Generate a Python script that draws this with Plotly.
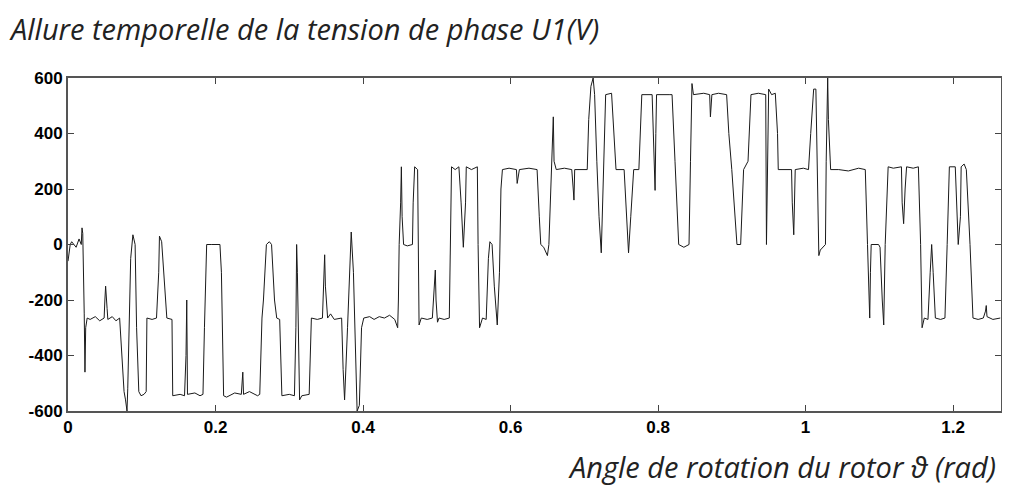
import plotly.graph_objects as go

# rotor angle (rad) at each breakpoint of the phase voltage trace
angle = [
    0.000, 0.003, 0.005, 0.011, 0.015, 0.018, 0.019, 0.020, 0.022, 0.023, 0.024, 0.026,
    0.030, 0.037, 0.043, 0.049, 0.050, 0.051, 0.053, 0.054, 0.060, 0.065, 0.070, 0.073,
    0.076, 0.078, 0.080, 0.081, 0.083, 0.085, 0.088, 0.091, 0.093, 0.096, 0.099, 0.103,
    0.106, 0.107, 0.114, 0.120, 0.123, 0.124, 0.127, 0.131, 0.134, 0.141, 0.142, 0.152,
    0.158, 0.160, 0.161, 0.162, 0.172, 0.179, 0.183,
    0.185, 0.188, 0.195, 0.206, 0.208, 0.211, 0.215, 0.226, 0.235, 0.237, 0.238, 0.246,
    0.257, 0.260, 0.263, 0.265, 0.269, 0.273, 0.276, 0.280, 0.283, 0.287, 0.290, 0.300,
    0.307, 0.309, 0.310, 0.311, 0.314, 0.317, 0.327, 0.330, 0.338, 0.345, 0.348, 0.349,
    0.352, 0.356, 0.361, 0.371, 0.373, 0.375, 0.379, 0.382, 0.384, 0.387, 0.390, 0.392,
    0.395, 0.398, 0.401,
    0.409, 0.415, 0.422, 0.429, 0.436, 0.443, 0.447, 0.448, 0.449, 0.451, 0.452, 0.453,
    0.455, 0.460, 0.467, 0.468, 0.470, 0.474, 0.475, 0.476, 0.479, 0.487, 0.494, 0.497,
    0.498, 0.499, 0.501, 0.503, 0.510, 0.517, 0.518, 0.520, 0.525, 0.530, 0.533, 0.536,
    0.539, 0.540, 0.547, 0.555, 0.556, 0.558, 0.562, 0.567, 0.570, 0.571, 0.572, 0.575,
    0.578, 0.582, 0.585, 0.587, 0.589, 0.598, 0.608,
    0.609, 0.612, 0.625, 0.636, 0.639, 0.641, 0.645, 0.650, 0.652, 0.655, 0.658, 0.659,
    0.662, 0.673, 0.683, 0.685, 0.686, 0.687, 0.704, 0.706, 0.709, 0.712, 0.714, 0.717,
    0.720, 0.723, 0.725, 0.728, 0.729, 0.737, 0.740, 0.743, 0.754, 0.756, 0.760, 0.763,
    0.767, 0.774, 0.777, 0.778, 0.792, 0.794, 0.796, 0.797, 0.798, 0.815,
    0.819, 0.823, 0.827, 0.828, 0.835, 0.842, 0.844, 0.846, 0.848, 0.862, 0.870, 0.871,
    0.873, 0.882, 0.893, 0.896, 0.900, 0.904, 0.907, 0.912, 0.915, 0.916, 0.922, 0.924,
    0.926, 0.936, 0.946, 0.947, 0.949, 0.950, 0.954, 0.959, 0.962, 0.963, 0.981, 0.982,
    0.984, 0.985, 0.986, 0.997, 1.004, 1.007, 1.011, 1.014,
    1.016, 1.018, 1.020, 1.027, 1.028, 1.030, 1.031, 1.034, 1.045, 1.058, 1.072, 1.081,
    1.084, 1.087, 1.088, 1.089, 1.099, 1.101, 1.104, 1.106, 1.108, 1.111, 1.112, 1.119,
    1.130, 1.131, 1.133, 1.135, 1.137, 1.146, 1.153, 1.156, 1.158, 1.161, 1.166, 1.169,
    1.171, 1.173, 1.176, 1.183, 1.189, 1.192, 1.195, 1.203, 1.206, 1.207, 1.210, 1.211,
    1.215, 1.218, 1.223, 1.227, 1.234, 1.241, 1.244, 1.245, 1.246, 1.254, 1.264,
]

# phase voltage U1 (V)
voltage = [
    -60, 0, 10, -10, 20, 0, 60, 40, -250, -460, -300, -265,
    -270, -260, -275, -265, -200, -150, -230, -270, -260, -275, -265, -400,
    -530, -560, -600, -520, -300, -50, 35, 0, -300, -530, -545, -540,
    -530, -265, -270, -265, -100, 30, 10, -150, -265, -270, -545, -540,
    -545, -400, -200, -540, -535, -545, -540,
    -300, 0, 0, 0, -100, -545, -550, -535, -540, -460, -540, -530,
    -545, -540, -265, -200, 0, 10, 0, -200, -265, -270, -545, -540,
    -545, -300, 0, -100, -560, -545, -540, -265, -270, -265, -37, -150,
    -265, -250, -270, -265, -450, -560, -300, -50, 45, -100, -400, -600,
    -580, -300, -265,
    -260, -270, -260, -265, -255, -270, -300, -200, 0, 150, 280, 100,
    0, -5, 0, 150, 280, 270, 0, -290, -265, -270, -265, -150,
    -92, -200, -280, -265, -270, -265, 0, 280, 270, 280, 150, -10,
    150, 280, 270, 280, 0, -300, -265, -270, -50, 0, 10, 0,
    -150, -290, -100, 200, 270, 275, 270,
    220, 270, 275, 270, 100, 0, -10, -40, 0, 200, 460, 300,
    270, 275, 270, 200, 160, 270, 270, 450, 570, 600, 540, 300,
    100, -30, 150, 450, 540, 545, 400, 270, 270, 150, -30, 100,
    270, 270, 450, 540, 540, 400, 195, 400, 540, 540,
    540, 300, 50, 0, -10, 0, 300, 580, 540, 545, 540, 460,
    540, 545, 540, 400, 270, 100, 0, 0, 200, 270, 300, 450,
    540, 545, 540, 0, 300, 560, 540, 545, 400, 270, 270, 150,
    35, 200, 270, 275, 270, 400, 560, 560,
    300, -40, -20, 0, 300, 600, 450, 270, 270, 265, 275, 270,
    0, -265, -100, 0, 0, -10, -200, -290, 0, 200, 280, 275,
    280, 150, 75, 200, 280, 275, 280, 0, -300, -265, -270, -100,
    0, -100, -265, -270, -265, 0, 280, 280, 100, 0, 100, 280,
    290, 270, 0, -265, -270, -265, -240, -220, -260, -270, -265,
]

x_ticks = [0, 0.2, 0.4, 0.6, 0.8, 1, 1.2]
x_tick_text = ['0', '0.2', '0.4', '0.6', '0.8', '1', '1.2']
y_ticks = [-600, -400, -200, 0, 200, 400, 600]
y_tick_text = ['-600', '-400', '-200', '0', '200', '400', '600']

fig = go.Figure()
fig.add_trace(go.Scatter(
    x=angle, y=voltage, mode='lines',
    line=dict(color='#1a1a1a', width=1),
    showlegend=False, hoverinfo='skip'
))

tick_font = dict(family='Liberation Sans, Arial', size=17, color='black', weight='bold')
label_font = dict(family='Open Sans', size=29, color='#222222', style='italic')

# the page body adds an 8px offset, so the figure is sized to fit what remains
fig.update_layout(
    width=1002, height=479,
    margin=dict(l=60, r=7, t=70, b=76),
    paper_bgcolor='white', plot_bgcolor='white',
    title=dict(
        text='Allure temporelle de la tension de phase U1(V)',
        font=label_font,
        x=0.003, xanchor='left', xref='container',
        y=0.955, yanchor='middle', yref='container'
    ),
    xaxis=dict(
        range=[0, 1.265], tickvals=x_ticks, ticktext=x_tick_text,
        ticks='inside', ticklen=6, tickcolor='#444444',
        showline=True, linecolor='#555555', linewidth=2, mirror='ticks',
        showgrid=False, zeroline=False, tickfont=tick_font
    ),
    yaxis=dict(
        range=[-600, 600], tickvals=y_ticks, ticktext=y_tick_text,
        ticks='inside', ticklen=6, tickcolor='#444444',
        showline=True, linecolor='#555555', linewidth=2, mirror='ticks',
        showgrid=False, zeroline=False, tickfont=tick_font
    ),
)

fig.add_annotation(
    text='Angle de rotation du rotor ϑ (rad)',
    xref='paper', yref='paper', x=0.997, y=-0.168,
    xanchor='right', yanchor='middle', showarrow=False,
    font=label_font
)

fig.write_html("out.html")
